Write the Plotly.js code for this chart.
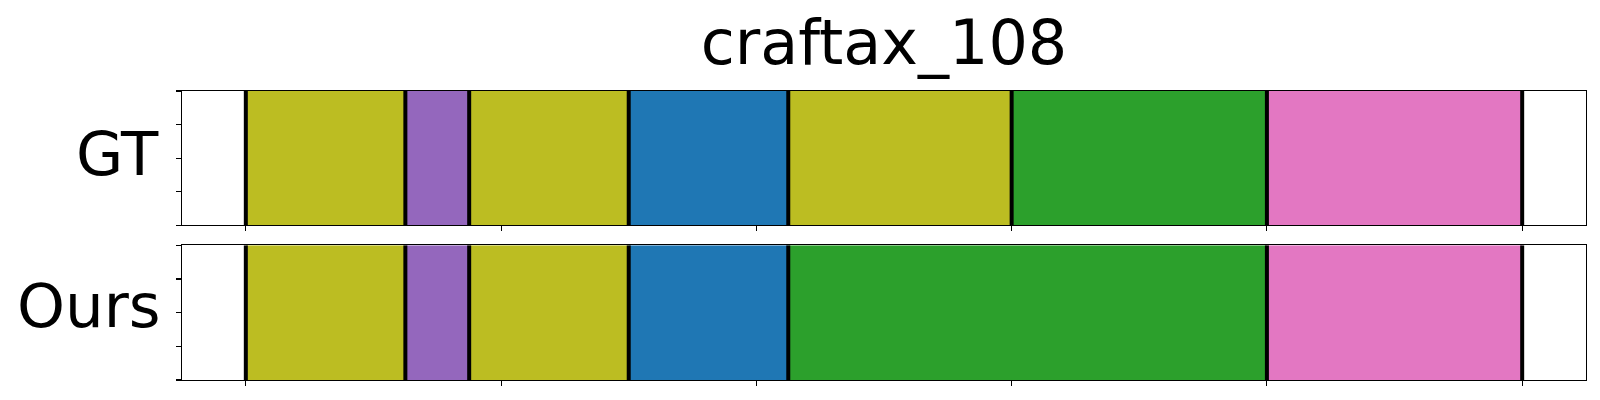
<!DOCTYPE html>
<html>
<head>
<meta charset="utf-8">
<script src="https://cdn.plot.ly/plotly-3.0.1.min.js"></script>
<style>html,body{margin:0;padding:0;background:#fff;}#chart{width:1600px;height:400px;}</style>
</head>
<body>
<div id="chart"></div>
<script>
// ---- data ----
const chartTitle = "craftax_108";
const rowLabels = ["GT", "Ours"];
const xTicks = [0, 100, 200, 300, 400, 500];
const yTicks = [0, 0.25, 0.5, 0.75, 1];

const gtStarts  = [0, 62.5, 87.5, 150, 212.5, 300, 400];
const gtEnds    = [62.5, 87.5, 150, 212.5, 300, 400, 500];
const gtClasses = [8, 4, 8, 0, 8, 2, 6];

const oursStarts  = [0, 62.5, 87.5, 150, 212.5, 400];
const oursEnds    = [62.5, 87.5, 150, 212.5, 400, 500];
const oursClasses = [8, 4, 8, 0, 2, 6];

// ---- style ----
const palette = ["#1f77b4","#ff7f0e","#2ca02c","#d62728","#9467bd","#8c564b","#e377c2","#7f7f7f","#bcbd22","#17becf"];
const FONT = "DejaVu Sans, sans-serif";

function segTraces(starts, ends, classes, xa, ya) {
  const bars = {
    type: "bar", orientation: "h",
    base: starts,
    x: ends.map((e, i) => e - starts[i]),
    y: starts.map(() => 0.5),
    width: 1,
    marker: {color: classes.map(c => palette[c]), line: {width: 0}},
    xaxis: xa, yaxis: ya, hoverinfo: "skip", showlegend: false
  };
  const bx = [], by = [];
  const bounds = [starts[0]].concat(ends);
  bounds.forEach(b => { bx.push(b, b, null); by.push(0, 1, null); });
  const lines = {
    type: "scatter", mode: "lines", x: bx, y: by,
    line: {color: "#000", width: 4},
    xaxis: xa, yaxis: ya, hoverinfo: "skip", showlegend: false, cliponaxis: true
  };
  return [bars, lines];
}

const data = [].concat(
  segTraces(gtStarts, gtEnds, gtClasses, "x", "y"),
  segTraces(oursStarts, oursEnds, oursClasses, "x2", "y2")
);

const xCommon = {
  range: [-25, 525], tickvals: xTicks, showticklabels: false,
  ticks: "outside", ticklen: 5, tickwidth: 1.1, tickcolor: "#000",
  showline: true, linecolor: "#000", linewidth: 1.1, mirror: true,
  showgrid: false, zeroline: false, fixedrange: true
};
const yCommon = {
  range: [0, 1], tickvals: yTicks, showticklabels: false,
  ticks: "outside", ticklen: 5, tickwidth: 1.1, tickcolor: "#000",
  showline: true, linecolor: "#000", linewidth: 1.1, mirror: true,
  showgrid: false, zeroline: false, fixedrange: true
};

const layout = {
  width: 1600, height: 400,
  margin: {l: 182, r: 14, t: 91, b: 20},
  paper_bgcolor: "#fff", plot_bgcolor: "#fff",
  barmode: "overlay",
  font: {family: FONT, color: "#000"},
  title: {text: chartTitle, font: {family: FONT, size: 62, color: "#000"},
          x: 0.5, xref: "paper", xanchor: "center", y: 1 - 42/400, yref: "container", yanchor: "middle"},
  xaxis: Object.assign({}, xCommon, {anchor: "y", matches: "x2"}),
  yaxis: Object.assign({}, yCommon, {domain: [0.536, 1], anchor: "x"}),
  xaxis2: Object.assign({}, xCommon, {anchor: "y2"}),
  yaxis2: Object.assign({}, yCommon, {domain: [0, 0.466], anchor: "x2"}),
  annotations: [
    {text: rowLabels[0], xref: "paper", yref: "paper", x: 0, y: (0.536 + 1)/2,
     xanchor: "right", yanchor: "middle", xshift: -21, yshift: 5,
     showarrow: false, font: {family: FONT, size: 61, color: "#000"}},
    {text: rowLabels[1], xref: "paper", yref: "paper", x: 0, y: 0.466/2,
     xanchor: "right", yanchor: "middle", xshift: -19, yshift: 7,
     showarrow: false, font: {family: FONT, size: 61, color: "#000"}}
  ]
};

Plotly.newPlot("chart", data, layout, {displayModeBar: false, staticPlot: true});
</script>
</body>
</html>
